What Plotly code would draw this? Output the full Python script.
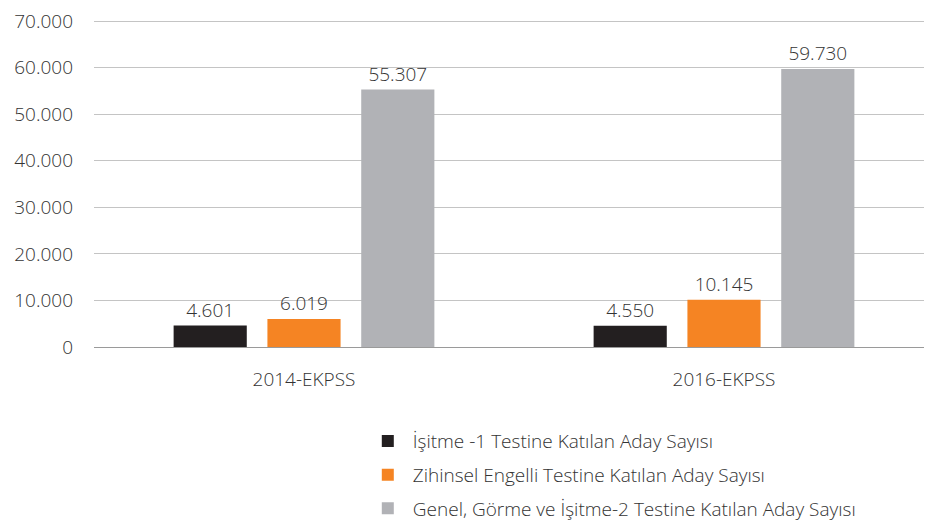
import plotly.graph_objects as go

categories = ["2014-EKPSS", "2016-EKPSS"]
isitme1 = [4601, 4550]
zihinsel = [6019, 10145]
genel = [55307, 59730]
series_names = [
    "İşitme -1 Testine Katılan Aday Sayısı",
    "Zihinsel Engelli Testine Katılan Aday Sayısı",
    "Genel, Görme ve İşitme-2 Testine Katılan Aday Sayısı",
]
colors = ["#231f20", "#f58423", "#b1b2b6"]

fig = go.Figure()
for i, (name, vals) in enumerate(zip(series_names, [isitme1, zihinsel, genel])):
    fig.add_trace(go.Bar(
        x=categories, y=vals, name=name, marker_color=colors[i],
        marker_line_width=0, legendgroup=f"g{i}",
        text=vals, texttemplate="%{y:,}", textposition="outside",
        textfont=dict(size=19, color="#333333", weight=300), cliponaxis=False,
    ))

fig.update_layout(
    width=932, height=531,
    margin=dict(l=86, r=6, t=11, b=192, autoexpand=False),
    plot_bgcolor="white", paper_bgcolor="white",
    font=dict(family="Open Sans", size=19, color="#333333", weight=300),
    separators=",.",
    barmode="group", bargap=0.33, bargroupgap=0.22,
    showlegend=True,
    legend=dict(x=0.32, y=-0.229, xanchor="left", yanchor="top",
                orientation="v", tracegroupgap=6, itemwidth=40,
                font=dict(size=19, color="#333333", weight=300)),
)
fig.update_xaxes(showgrid=False, ticks="", ticklabelstandoff=19, automargin=False,
                 tickfont=dict(size=19, weight=300))
fig.update_yaxes(range=[0, 70450], dtick=10000, tickformat=",d", automargin=False,
                 gridcolor="#c4c4c4", gridwidth=1, ticklabeloverflow="allow",
                 zeroline=True, zerolinecolor="#9a9a9a", zerolinewidth=1,
                 ticklabelstandoff=20, tickfont=dict(size=19, weight=300))

fig.write_html("out.html")
